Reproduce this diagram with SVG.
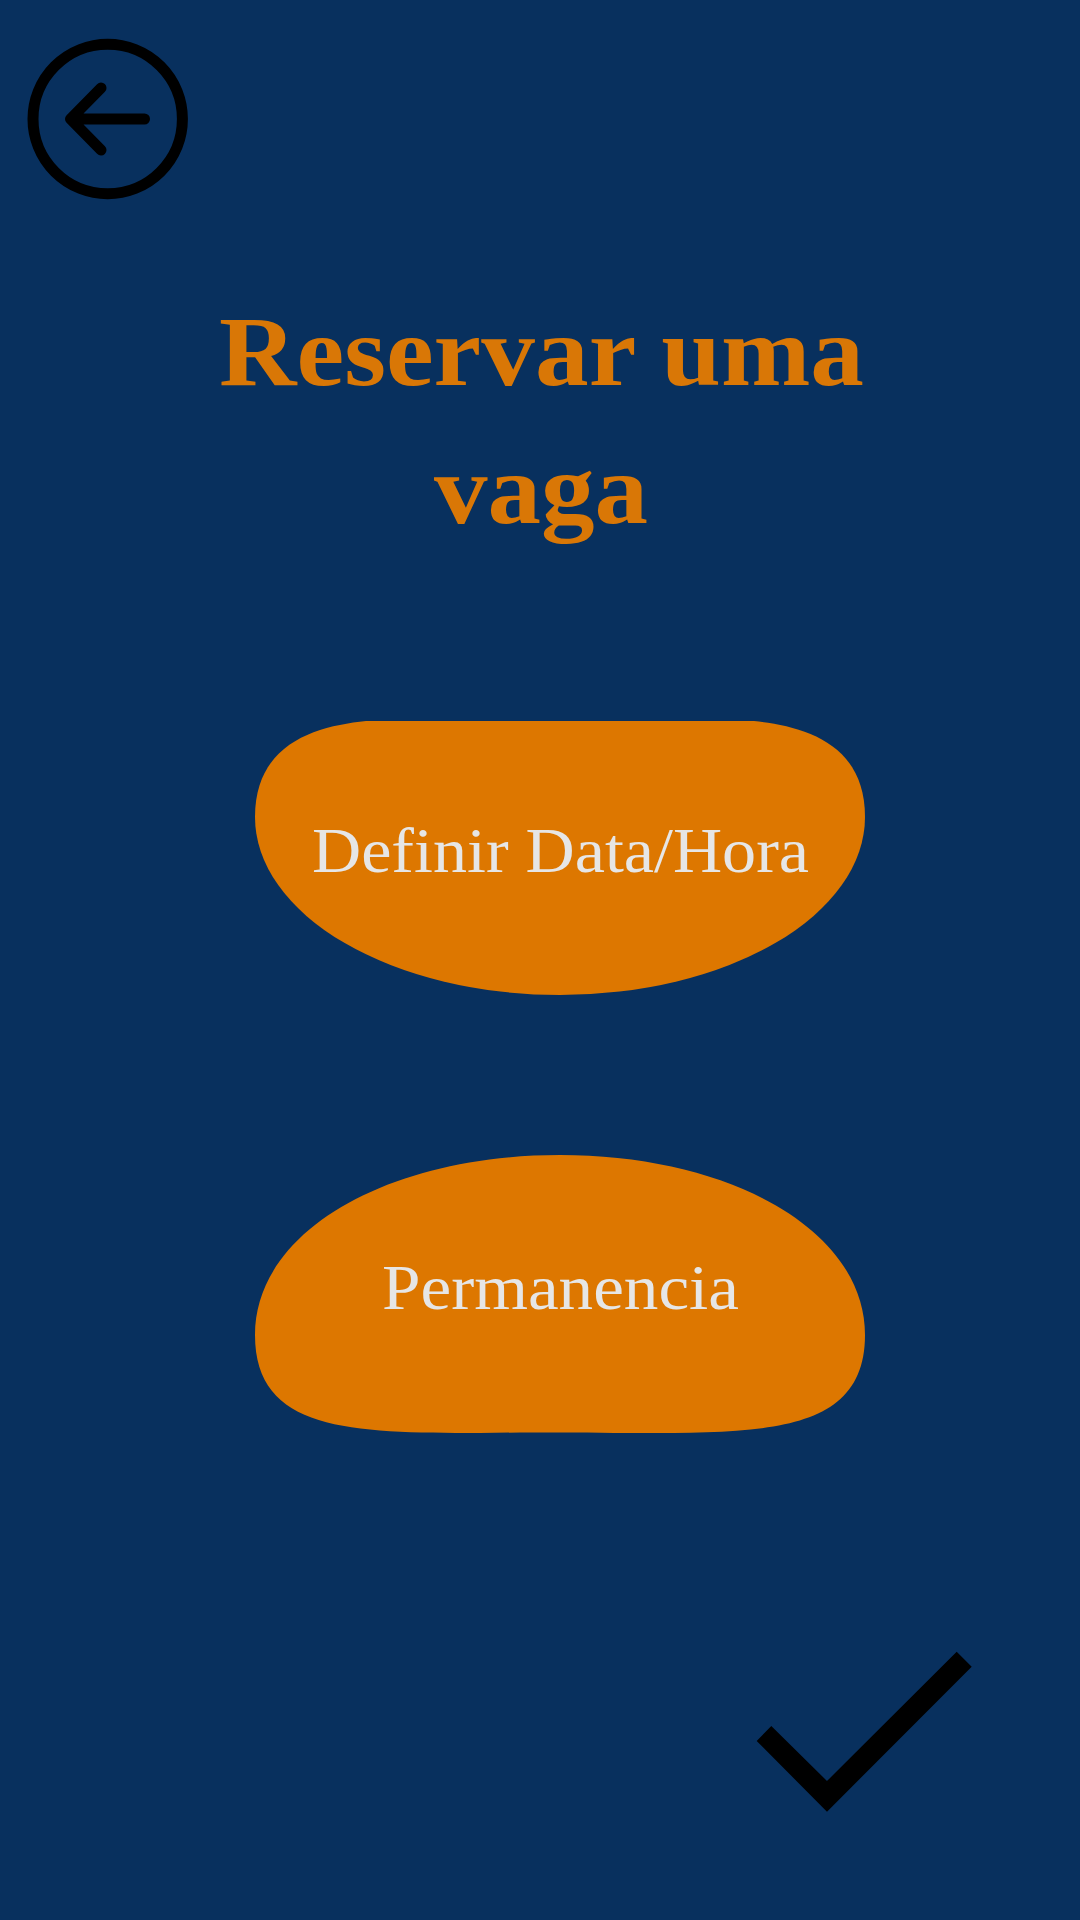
<svg xmlns="http://www.w3.org/2000/svg" width="1080" height="1920" viewBox="0 0 1080 1920">
<style>
.t{font-family:"Liberation Serif",serif}
.title{font-size:100px;font-weight:700;fill:#d97706;text-anchor:start}
.lbl{font-size:64px;fill:#e6e6e6;text-anchor:start}
.btn{fill:#dd7700}
</style>
<rect id="background" width="1080" height="1920" fill="#08305e"/>
<g id="back-icon" fill="none" stroke="#000" stroke-linecap="round" stroke-linejoin="round">
<circle cx="107.7" cy="119" r="74.7" stroke-width="11"/>
<path d="M71 119H144.500M101 88L70.500 119L101 150" stroke-width="11"/>
</g>
<g id="title">
<text class="t title" x="219" y="385" textLength="645" lengthAdjust="spacingAndGlyphs">Reservar uma</text>
<text class="t title" x="434" y="523" textLength="214" lengthAdjust="spacingAndGlyphs">vaga</text>
</g>
<g id="btn-data">
<path class="btn" d="M366 721H754C802 726 865 742 865 817A305 178 0 0 1 560 995A305 178 0 0 1 255 817C255 742 318 726 366 721Z"/>
<text class="t lbl" x="312" y="872" textLength="497" lengthAdjust="spacingAndGlyphs">Definir Data/Hora</text>
</g>
<g id="btn-permanencia">
<path class="btn" d="M560 1155C730 1155 865 1230 865 1335C865 1431 770 1433 640 1433C590 1433 530 1432 480 1433C350 1433 255 1431 255 1335C255 1230 390 1155 560 1155Z"/>
<text class="t lbl" x="382" y="1309" textLength="357" lengthAdjust="spacingAndGlyphs">Permanencia</text>
</g>
<g id="check-icon">
<polygon points="956.7,1651.7 971.7,1666.7 827,1811.7 756.7,1741 771.3,1726 827,1781"/>
</g>
</svg>
